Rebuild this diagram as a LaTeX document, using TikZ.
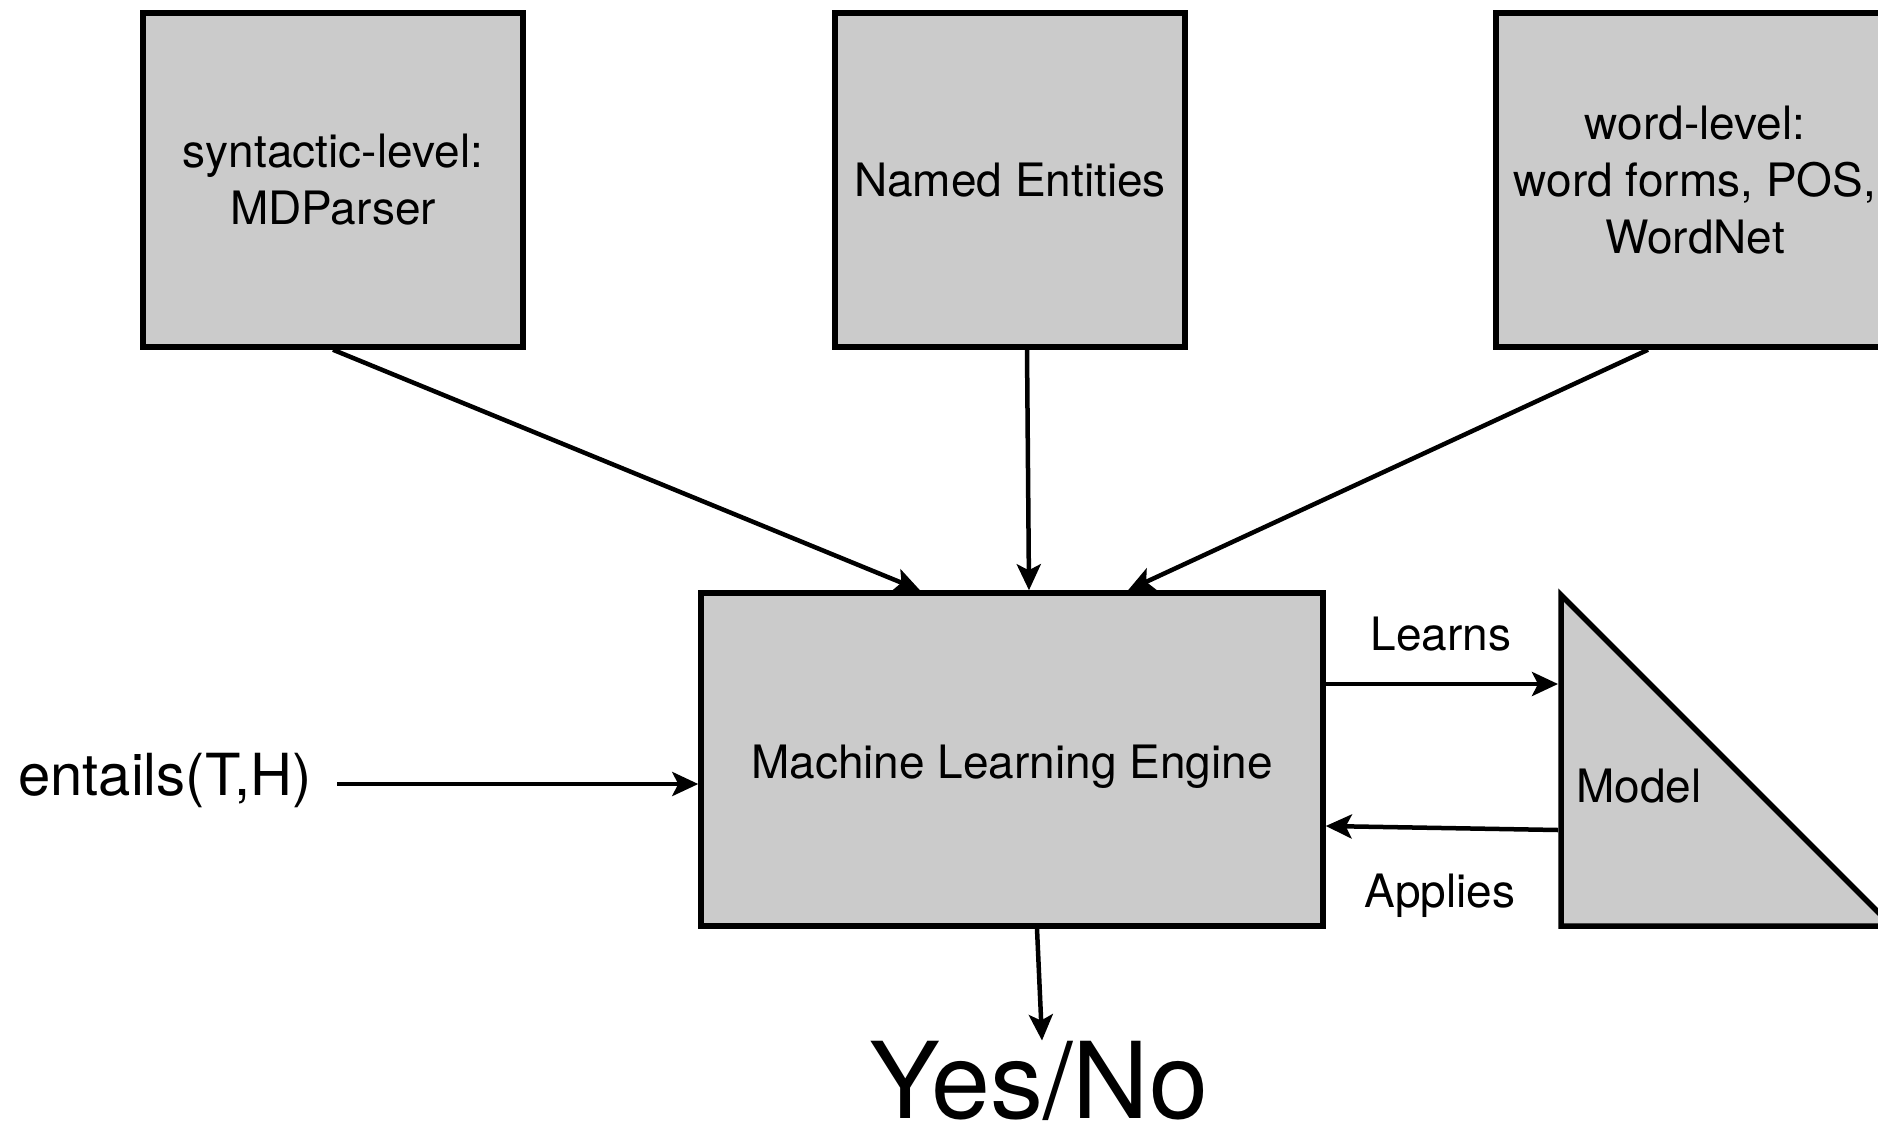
\documentclass[tikz,border=0pt]{standalone}
\usepackage{fontspec}
\setmainfont{TeX Gyre Heros}
\usetikzlibrary{arrows.meta,calc}
\definecolor{boxgray}{HTML}{CBCBCB}
\tikzset{
  feature/.style={draw, line width=5.5pt, fill=boxgray, inner sep=0pt,
    align=center, font=\fontsize{46}{57}\selectfont},
  label/.style={inner sep=0pt, font=\fontsize{46}{57}\selectfont},
  arr/.style={line width=4.5pt, -{Stealth[length=26pt,width=24pt,inset=6pt]}}
}
\begin{document}
\begin{tikzpicture}[x=1pt,y=-1pt]
\clip (0,0) rectangle (1878,1121);
\fill[white] (0,0) rectangle (1878,1121);

% feature extractors
\node[feature, minimum width=380pt, minimum height=334pt] (syn) at (333,180)
  {syntactic-level:\\MDParser};
\node[feature, minimum width=350pt, minimum height=334pt] (ne) at (1010,180)
  {Named Entities};
\node[feature, minimum width=398pt, minimum height=334pt] (word) at (1695,180)
  {word-level:\\word forms, POS,\\WordNet};

% learner
\node[feature, minimum width=622pt, minimum height=333pt] (eng) at (1012,759.5) {};
\node[label, anchor=base] (engl) at (1012,778) {Machine Learning Engine};

% model triangle
\coordinate (mtop) at (1561,595);
\coordinate (mbl) at (1561,926);
\coordinate (mbr) at (1892,926);
\filldraw[fill=boxgray, line width=5.5pt, line join=miter] (mtop) -- (mbl) -- (mbr) -- cycle;
\node[label, anchor=base west] (model) at (1576,802) {Model};

% input and output
\node[inner sep=0pt, anchor=base west, font=\fontsize{58}{70}\selectfont] (ent) at (18,795) {entails(T,H)};
\node[inner sep=0pt, anchor=base, font=\fontsize{106}{120}\selectfont] (yn) at (1039,1118) {Yes/No};

% connectors from the feature boxes
\draw[arr] (syn.south) -- ([xshift=-92pt]eng.north);
\draw[arr] ([xshift=17pt]ne.south) -- ([xshift=17pt]eng.north);
\draw[arr] ([xshift=-47pt]word.south) -- ([xshift=116pt]eng.north);

% learning and applying the model
\coordinate (learnT) at (1558,684);
\coordinate (applyS) at (1558,830);
\draw[arr] ([yshift=75.5pt]eng.east) -- (learnT);
\draw[arr] (applyS) -- ([yshift=-66.5pt]eng.east);
\node[label, anchor=base] (learns) at (1441,650) {Learns};
\node[label, anchor=base] (applies) at (1440,907) {Applies};

% input arrow
\coordinate (entIn) at ([yshift=-24.5pt]eng.west);
\path (ent.east) ++(25pt,0pt) coordinate (entOut);
\draw[arr] (entOut |- entIn) -- (entIn);

% output arrow
\draw[arr] ([xshift=25pt]eng.south) -- ([xshift=3pt]yn.north);
\end{tikzpicture}
\end{document}
